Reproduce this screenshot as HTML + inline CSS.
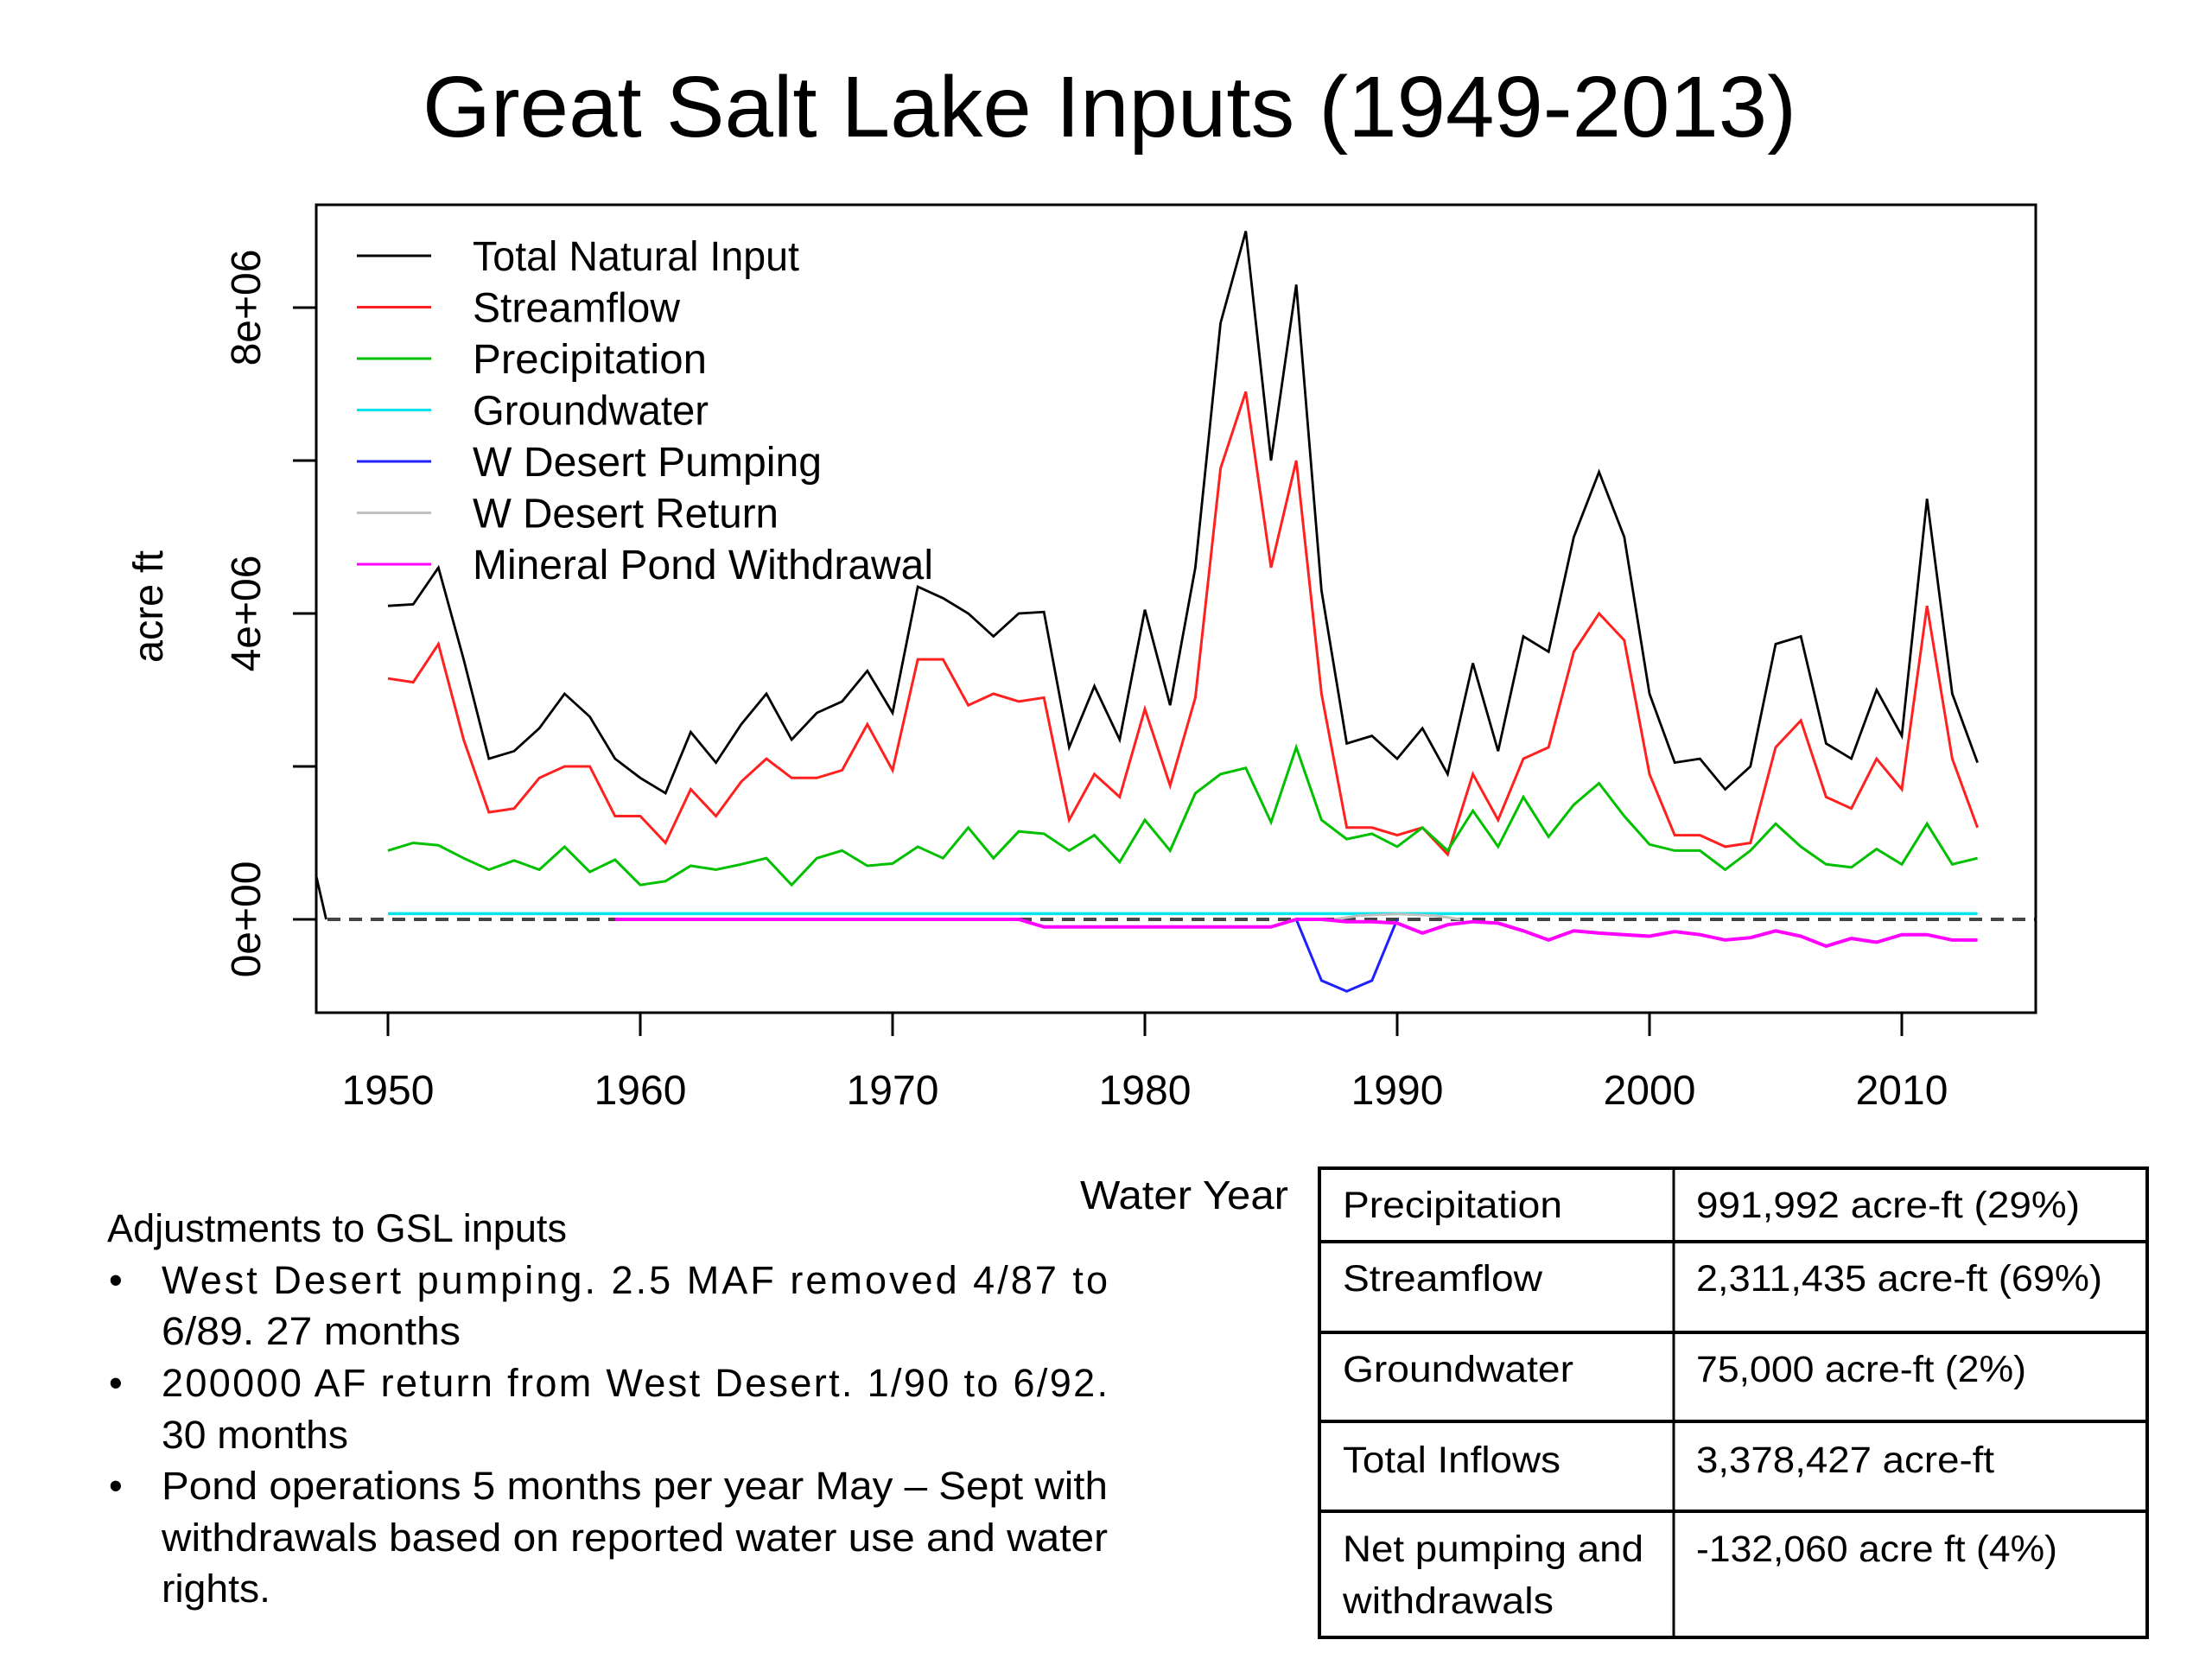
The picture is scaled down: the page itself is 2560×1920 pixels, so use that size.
<!DOCTYPE html>
<html><head><meta charset="utf-8"><title>Great Salt Lake Inputs</title>
<style>
html,body{margin:0;padding:0;background:#fff;}
svg{display:block;}
text{font-family:"Liberation Sans",sans-serif;fill:#000;}
.cal{font-family:"Liberation Sans Narrow","Liberation Sans",sans-serif;}
</style></head>
<body>
<svg id="chart" width="2560" height="1920" viewBox="0 0 2560 1920" xmlns="http://www.w3.org/2000/svg">
<text class="cal" x="489" y="158" font-size="100" textLength="1590" lengthAdjust="spacingAndGlyphs">Great Salt Lake Inputs (1949-2013)</text>
<g id="plot"></g>
<text x="1250" y="1399" font-size="46" textLength="241" lengthAdjust="spacingAndGlyphs">Water Year</text>
<text x="0" y="0" font-size="48" textLength="130" lengthAdjust="spacingAndGlyphs" text-anchor="middle" transform="translate(188,702) rotate(-90)">acre ft</text>

<g class="cal" font-size="45">
<text x="124" y="1437" textLength="532" lengthAdjust="spacingAndGlyphs">Adjustments to GSL inputs</text>
<text x="126" y="1497">•</text>
<text x="187" y="1497" textLength="1095" lengthAdjust="spacing">West  Desert  pumping.   2.5  MAF  removed  4/87  to</text>
<text x="187" y="1556" textLength="346" lengthAdjust="spacingAndGlyphs">6/89.  27 months</text>
<text x="126" y="1616">•</text>
<text x="187" y="1616" textLength="1095" lengthAdjust="spacing">200000 AF return from West Desert.  1/90 to 6/92.</text>
<text x="187" y="1676" textLength="216" lengthAdjust="spacingAndGlyphs">30 months</text>
<text x="126" y="1735">•</text>
<text x="187" y="1735" textLength="1095" lengthAdjust="spacingAndGlyphs">Pond operations 5 months per year May – Sept with</text>
<text x="187" y="1795" textLength="1095" lengthAdjust="spacingAndGlyphs">withdrawals based on reported water use and water</text>
<text x="187" y="1854" textLength="126" lengthAdjust="spacingAndGlyphs">rights.</text>
</g>

<g class="cal" font-size="43">
<rect x="1527" y="1352" width="958" height="543" fill="none" stroke="#000" stroke-width="4"/>
<line x1="1937" y1="1352" x2="1937" y2="1895" stroke="#000" stroke-width="3"/>
<line x1="1527" y1="1437" x2="2485" y2="1437" stroke="#000" stroke-width="4"/>
<line x1="1527" y1="1542" x2="2485" y2="1542" stroke="#000" stroke-width="4"/>
<line x1="1527" y1="1645" x2="2485" y2="1645" stroke="#000" stroke-width="4"/>
<line x1="1527" y1="1749" x2="2485" y2="1749" stroke="#000" stroke-width="4"/>
<text x="1554" y="1409" textLength="254" lengthAdjust="spacingAndGlyphs">Precipitation</text>
<text x="1963" y="1409" textLength="444" lengthAdjust="spacingAndGlyphs">991,992 acre-ft  (29%)</text>
<text x="1554" y="1494" textLength="231" lengthAdjust="spacingAndGlyphs">Streamflow</text>
<text x="1963" y="1494" textLength="470" lengthAdjust="spacingAndGlyphs">2,311,435 acre-ft (69%)</text>
<text x="1554" y="1599" textLength="267" lengthAdjust="spacingAndGlyphs">Groundwater</text>
<text x="1963" y="1599" textLength="382" lengthAdjust="spacingAndGlyphs">75,000 acre-ft (2%)</text>
<text x="1554" y="1704" textLength="252" lengthAdjust="spacingAndGlyphs">Total Inflows</text>
<text x="1963" y="1704" textLength="345" lengthAdjust="spacingAndGlyphs">3,378,427 acre-ft</text>
<text x="1554" y="1807" textLength="348" lengthAdjust="spacingAndGlyphs">Net pumping and</text>
<text x="1554" y="1867" textLength="244" lengthAdjust="spacingAndGlyphs">withdrawals</text>
<text x="1963" y="1807" textLength="418" lengthAdjust="spacingAndGlyphs">-132,060 acre ft (4%)</text>
</g>
</svg>
<script>
// values in millions of acre-ft, water years 1950-2013
const years = [];
for (let y = 1950; y <= 2013; y++) years.push(y);
const totalInput = [4.1,4.12,4.6,3.4,2.1,2.2,2.5,2.95,2.65,2.1,1.85,1.65,2.45,2.05,2.55,2.95,2.35,2.7,2.85,3.25,2.7,4.35,4.2,4.0,3.7,4.0,4.02,2.25,3.05,2.35,4.05,2.8,4.6,7.8,9.0,6.0,8.3,4.3,2.3,2.4,2.1,2.5,1.9,3.35,2.2,3.7,3.5,5.0,5.85,5.0,2.95,2.05,2.1,1.7,2.0,3.6,3.7,2.3,2.1,3.0,2.4,5.5,2.95,2.05];
const streamflow = [3.15,3.1,3.6,2.35,1.4,1.45,1.85,2.0,2.0,1.35,1.35,1.0,1.7,1.35,1.8,2.1,1.85,1.85,1.95,2.55,1.95,3.4,3.4,2.8,2.95,2.85,2.9,1.3,1.9,1.6,2.75,1.75,2.9,5.9,6.9,4.6,6.0,2.95,1.2,1.2,1.1,1.2,0.85,1.9,1.3,2.1,2.25,3.5,4.0,3.65,1.9,1.1,1.1,0.95,1.0,2.25,2.6,1.6,1.45,2.1,1.7,4.1,2.1,1.2];
const precipitation = [0.9,1.0,0.97,0.8,0.65,0.77,0.65,0.95,0.62,0.78,0.45,0.5,0.7,0.65,0.72,0.8,0.45,0.8,0.9,0.7,0.73,0.95,0.8,1.2,0.8,1.15,1.12,0.9,1.1,0.75,1.3,0.9,1.65,1.9,1.98,1.27,2.25,1.3,1.05,1.12,0.95,1.2,0.9,1.42,0.95,1.6,1.08,1.5,1.78,1.35,0.98,0.9,0.9,0.65,0.9,1.25,0.95,0.72,0.68,0.92,0.72,1.25,0.72,0.8];
const groundwater = years.map(() => 0.075);
const pumpYears = [1986,1987,1988,1989,1990];
const pumping = [0,-0.8,-0.94,-0.8,0];
const returnYears = [1987.5,1988.5,1990,1991.5,1992.5];
const westReturn = [0,0.05,0.07,0.05,0];
const pondYears = [1959,1960,1961,1962,1963,1964,1965,1966,1967,1968,1969,1970,1971,1972,1973,1974,1975,1976,1977,1978,1979,1980,1981,1982,1983,1984,1985,1986,1987,1988,1989,1990,1991,1992,1993,1994,1995,1996,1997,1998,1999,2000,2001,2002,2003,2004,2005,2006,2007,2008,2009,2010,2011,2012,2013];
const pond = [0,0,0,0,0,0,0,0,0,0,0,0,0,0,0,0,0,-0.1,-0.1,-0.1,-0.1,-0.1,-0.1,-0.1,-0.1,-0.1,-0.1,0,0,-0.03,-0.03,-0.05,-0.18,-0.07,-0.03,-0.05,-0.15,-0.27,-0.15,-0.18,-0.2,-0.22,-0.16,-0.2,-0.27,-0.24,-0.15,-0.22,-0.35,-0.25,-0.3,-0.2,-0.2,-0.27,-0.27];
const strayYears = [1947.1,1947.55];
const strayVals = [0.65,0];
const xTicks = [1950,1960,1970,1980,1990,2000,2010];
const yTicks = [0,2,4,6,8];
const yTickLabels = ["0e+00","","4e+06","","8e+06"];
const legendLabels = ["Total Natural Input","Streamflow","Precipitation","Groundwater","W Desert Pumping","W Desert Return","Mineral Pond Withdrawal"];
const legendColors = ["#000000","#ff2020","#00c000","#00e5ee","#2020ff","#c0c0c0","#ff00ff"];
const legendWidths = [378,240,271,273,404,354,533];

const NS = "http://www.w3.org/2000/svg";
const L = 366, R = 2356, T = 237, B = 1172;
const X0 = 449, PXYR = 29.2, Y0 = 1064, PXU = 88.5;
const xs = y => X0 + (y - 1950) * PXYR;
const ys = v => Y0 - v * PXU;
const g = document.getElementById('plot');
function mk(tag, attrs, parent) {
  const e = document.createElementNS(NS, tag);
  for (const k in attrs) e.setAttribute(k, attrs[k]);
  (parent || g).appendChild(e);
  return e;
}
const defs = mk('defs', {});
const cp = mk('clipPath', {id: 'pc'}, defs);
mk('rect', {x: L, y: T, width: R - L, height: B - T}, cp);

function series(xv, yv, color, name, w) {
  let d = '';
  xv.forEach((x, i) => { d += (i ? 'L' : 'M') + xs(x).toFixed(1) + ',' + ys(yv[i]).toFixed(1); });
  const p = mk('path', {d: d, fill: 'none', stroke: color, 'stroke-width': w || 3, 'stroke-linejoin': 'miter', 'clip-path': 'url(#pc)'});
  
  
  return p;
}

const zl = mk('line', {x1: 379, x2: R, y1: ys(0), y2: ys(0), stroke: '#444', 'stroke-width': 4, 'stroke-dasharray': '15 10'});



series(years, groundwater, '#00e5ee', 'groundwater-line', 3.5);
series(years, totalInput, '#000000', 'total-natural-input-line', 2.8);
series(strayYears, strayVals, '#000000', 'total-input-stray-segment', 2.8);
series(years, streamflow, '#ff2020', 'streamflow-line', 3);
series(years, precipitation, '#00c000', 'precipitation-line', 3);
series(pumpYears, pumping, '#2020ff', 'w-desert-pumping-line', 3);
series(returnYears, westReturn, '#c0c0c0', 'w-desert-return-line', 3);
series(pondYears, pond, '#ff00ff', 'mineral-pond-withdrawal-line', 4);

const fr = mk('rect', {x: L, y: T, width: R - L, height: B - T, fill: 'none', stroke: '#000', 'stroke-width': 3});



xTicks.forEach(t => {
  const tl = mk('line', {x1: xs(t), x2: xs(t), y1: B, y2: 1199, stroke: '#000', 'stroke-width': 3});
  
  
  const tx = mk('text', {x: xs(t), y: 1278, 'font-size': 48, 'text-anchor': 'middle'});
  
  
  tx.textContent = String(t);
});
yTicks.forEach((t, i) => {
  const tl = mk('line', {x1: 339, x2: L, y1: ys(t), y2: ys(t), stroke: '#000', 'stroke-width': 3});
  
  
  if (yTickLabels[i]) {
    const tx = mk('text', {x: 0, y: 0, 'font-size': 48, 'text-anchor': 'middle', transform: 'translate(301,' + ys(t) + ') rotate(-90)'});
    
    
    tx.textContent = yTickLabels[i];
  }
});

const lg = mk('g', {});


legendLabels.forEach((lab, i) => {
  const y = 296 + i * 59.5;
  const ln = mk('line', {x1: 413, x2: 499, y1: y, y2: y, stroke: legendColors[i], 'stroke-width': 3}, lg);
  
  
  const tx = mk('text', {x: 547, y: y + 17, 'font-size': 48, textLength: legendWidths[i], lengthAdjust: 'spacingAndGlyphs'}, lg);
  
  
  tx.textContent = lab;
});
</script>
</body></html>
